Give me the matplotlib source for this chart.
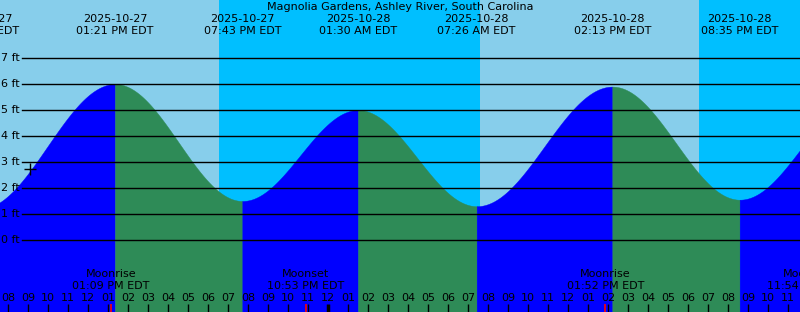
from datetime import datetime
import numpy as np
import matplotlib.pyplot as plt

# station and tide events (high / low water)
station = 'Magnolia Gardens, Ashley River, South Carolina'
tide_times = ['2025-10-27 06:36', '2025-10-27 13:21', '2025-10-27 19:43', '2025-10-28 01:30',
              '2025-10-28 07:26', '2025-10-28 14:13', '2025-10-28 20:35', '2025-10-29 02:45']
tide_heights = [1.2, 6.0, 1.5, 5.0, 1.3, 5.9, 1.55, 5.5]

# sun: daylight intervals (sunrise, sunset)
sunrise = ['2025-10-27 07:36', '2025-10-28 07:36']
sunset = ['2025-10-27 18:33', '2025-10-28 18:33']

# moon events
moon_times = ['2025-10-27 13:09', '2025-10-27 22:53', '2025-10-28 13:52', '2025-10-28 23:54']
moon_names = ['Moonrise', 'Moonset', 'Moonrise', 'Moonset']

# current reading marker
now_time = '2025-10-27 09:06'
now_height = 2.75

ft_levels = [0, 1, 2, 3, 4, 5, 6, 7]
view_start = '2025-10-27 07:36'
view_end = '2025-10-28 23:36'

t0 = datetime(2025, 10, 27)


def hrs(s):
    return (datetime.strptime(s, '%Y-%m-%d %H:%M') - t0).total_seconds() / 3600


W, H = 800, 312
fig = plt.figure(figsize=(8, 3.12), dpi=100)
ax = fig.add_axes([0, 0, 1, 1])
ax.set_axis_off()
x0, x1 = hrs(view_start), hrs(view_end)
ax.set_xlim(x0, x1)
ax.set_ylim(-72 / 26, 240 / 26)

# night / day background
ax.axvspan(x0, x1, color='#00BFFF', zorder=0, lw=0)
for sr, ss in zip(sunrise, sunset):
    ax.axvspan(hrs(sr), hrs(ss), color='#87CEEB', zorder=0.5, lw=0)

# tide curve: half cosine between successive extremes
th = [hrs(t) for t in tide_times]
for i in range(len(th) - 1):
    tt = np.linspace(th[i], th[i + 1], 200)
    f = (1 - np.cos(np.pi * (tt - th[i]) / (th[i + 1] - th[i]))) / 2
    hh = tide_heights[i] + (tide_heights[i + 1] - tide_heights[i]) * f
    col = '#0000FF' if tide_heights[i + 1] > tide_heights[i] else '#2E8B57'
    ax.fill_between(tt, hh, -5, color=col, lw=0.3, edgecolor=col, zorder=1)

# horizontal ft lines and labels
for lv in ft_levels:
    ax.axhline(lv, xmin=22 / W, xmax=1, color='black', lw=1, zorder=2)
    ax.text(20 / W, lv, f'{lv} ft', transform=ax.get_yaxis_transform(), ha='right', va='center',
            fontsize=8, zorder=3)

ax.plot(hrs(now_time), now_height, marker='+', color='black', ms=8, mew=1, zorder=3)

xt = ax.get_xaxis_transform()


def yf(p):
    return 1 - p / H


# title and tide event labels (only those that reach into the view)
ax.text(0.5, yf(7), station, transform=ax.transAxes, ha='center', va='center', fontsize=8)
for t in tide_times:
    if not (x0 - 2 < hrs(t) < x1 + 2):
        continue
    d = datetime.strptime(t, '%Y-%m-%d %H:%M')
    ax.text(hrs(t), yf(19), d.strftime('%Y-%m-%d'), transform=xt, ha='center', va='center', fontsize=8)
    ax.text(hrs(t), yf(31), d.strftime('%I:%M %p EDT'), transform=xt, ha='center', va='center', fontsize=8)

# moon labels and red ticks
for t, name in zip(moon_times, moon_names):
    d = datetime.strptime(t, '%Y-%m-%d %H:%M')
    ax.text(hrs(t), yf(274), name, transform=xt, ha='center', va='center', fontsize=8)
    ax.text(hrs(t), yf(286), d.strftime('%I:%M %p EDT'), transform=xt, ha='center', va='center', fontsize=8)
    ax.vlines(hrs(t), 0, 8 / H, transform=xt, color='red', lw=1.2, zorder=4)

# hourly ticks
for h in range(int(np.ceil(x0)), int(x1) + 1):
    lab = f'{(h % 12) or 12:02d}'
    ax.text(h, yf(298), lab, transform=xt, ha='center', va='center', fontsize=8, zorder=3)
    ax.vlines(h, 0, 8 / H, transform=xt, color='black', lw=2.5 if h % 24 == 0 else 1, zorder=3)

fig.savefig('out.png', dpi=100)
